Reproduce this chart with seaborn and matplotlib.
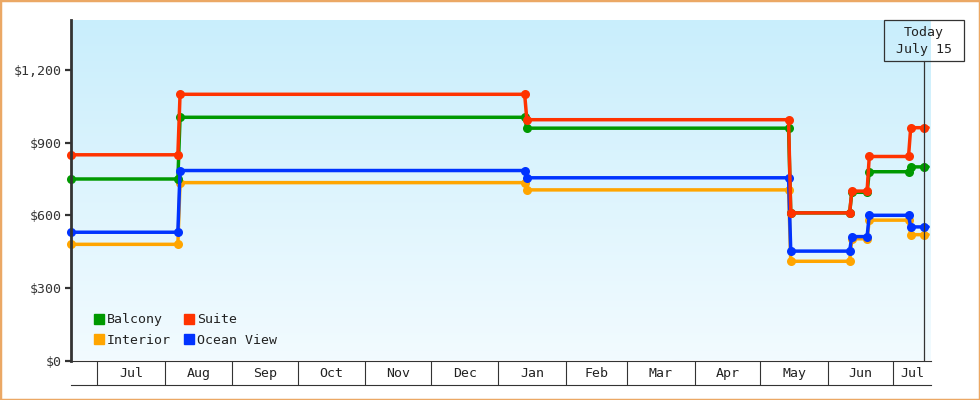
import numpy as np
import pandas as pd
import matplotlib.pyplot as plt
import matplotlib.dates as mdates
from matplotlib.colors import LinearSegmentedColormap
from matplotlib.lines import Line2D
from matplotlib.patches import Rectangle
import seaborn as sns

# price history per cabin type (points where the fare changed)
dates = ['2022-06-19', '2022-08-07', '2022-08-08', '2023-01-13', '2023-01-14',
         '2023-05-14', '2023-05-15', '2023-06-11', '2023-06-12', '2023-06-19',
         '2023-06-20', '2023-07-08', '2023-07-09', '2023-07-15', '2023-07-17']
balcony = [750, 750, 1005, 1005, 960, 960, 610, 610, 695, 695, 780, 780, 800, 800, 800]
interior = [480, 480, 735, 735, 705, 705, 410, 410, 503, 503, 580, 580, 520, 520, 520]
suite = [850, 850, 1100, 1100, 995, 995, 610, 610, 700, 700, 843, 843, 962, 962, 962]
ocean_view = [530, 530, 785, 785, 755, 755, 452, 452, 512, 512, 600, 600, 552, 552, 552]

cabins = ['Balcony', 'Interior', 'Suite', 'Ocean View']
colors = {'Balcony': '#009900', 'Interior': '#ffa500', 'Suite': '#ff3300', 'Ocean View': '#0033ff'}
y_ticks = [0, 300, 600, 900, 1200]
y_labels = ['$0', '$300', '$600', '$900', '$1,200']
months = ['Jul', 'Aug', 'Sep', 'Oct', 'Nov', 'Dec', 'Jan', 'Feb', 'Mar', 'Apr', 'May', 'Jun', 'Jul']
today = '2023-07-15'
today_label = 'Today\nJuly 15'

df = pd.DataFrame({
    'date': pd.to_datetime(dates * 4),
    'price': balcony + interior + suite + ocean_view,
    'cabin': np.repeat(cabins, len(dates)),
})

sns.set_style('white')
plt.rcParams['font.family'] = ['DejaVu Sans Mono']
plt.rcParams['font.size'] = 9.5
plt.rcParams['text.color'] = '#222222'

W, H = 980, 400
L, R, T, B = 71, 930.7, 20, 360.5
fig = plt.figure(figsize=(W / 100, H / 100), dpi=100)

# gradient background of the plot area
bg = fig.add_axes([L / W, 1 - B / H, (R - L) / W, (B - T) / H], zorder=0)
cmap = LinearSegmentedColormap.from_list('sky', ['#c9eefc', '#f2fbff'])
bg.imshow(np.linspace(0, 1, 256).reshape(-1, 1), cmap=cmap, aspect='auto', extent=[0, 1, 0, 1])
bg.axis('off')

ax = fig.add_axes([L / W, 1 - B / H, (R - L) / W, (B - T) / H], zorder=1)
ax.set_facecolor('none')

sns.lineplot(data=df, x='date', y='price', hue='cabin',
             hue_order=['Interior', 'Balcony', 'Ocean View', 'Suite'],
             palette=colors, marker='o', markersize=6.5, markeredgewidth=0,
             markevery=slice(0, -1), linewidth=2.5, errorbar=None,
             legend=False, clip_on=False, ax=ax)

xmin, xmax = pd.Timestamp('2022-06-19'), pd.Timestamp('2023-07-18 04:00')
ax.set_xlim(xmin, xmax)
ax.set_ylim(0, 1407)
ax.set_yticks(y_ticks, y_labels)
ax.set_xticks([])
ax.set_xlabel('')
ax.set_ylabel('')
for s in ['top', 'right']:
    ax.spines[s].set_visible(False)
ax.spines['left'].set_color('#333333')
ax.spines['left'].set_linewidth(2)
ax.spines['bottom'].set_color('#333333')
ax.spines['bottom'].set_linewidth(0.8)
ax.tick_params(axis='y', length=4, width=1.6, color='#333333', pad=2.5,
               labelsize=9.5, labelcolor='#333333', left=True)

# legend
handles = [Line2D([], [], marker='s', ls='', color=colors[c], markersize=7.7) for c in cabins]
ax.legend(handles, cabins, ncol=2, loc='lower left', frameon=False,
          bbox_to_anchor=(0.02, 0.025), borderaxespad=0, handlelength=0.8,
          handletextpad=0.2, columnspacing=1.0, labelspacing=0.55, fontsize=9.5)

# month band under the plot
band = fig.add_axes([L / W, 1 - 385 / H, (R - L) / W, (385 - B) / H])
band.set_xlim(ax.get_xlim())
band.set_ylim(0, 1)
band.set_facecolor('white')
for s in ['top', 'left', 'right']:
    band.spines[s].set_visible(False)
band.spines['bottom'].set_color('#333333')
band.spines['bottom'].set_linewidth(0.8)
band.set_xticks([])
band.set_yticks([])
starts = pd.date_range('2022-07-01', periods=len(months), freq='MS')
edges = list(starts) + [xmax]
for i, m in enumerate(months):
    band.axvline(edges[i], color='#333333', lw=0.8)
    mid = edges[i] + (edges[i + 1] - edges[i]) / 2
    band.text(mid, 0.48, m, ha='center', va='center', fontsize=9.5)

# today marker line and box
box_bottom = 60.7
ax.axvline(pd.Timestamp(today), ymin=0, ymax=(B - box_bottom) / (B - T),
           color='#333333', lw=0.9, zorder=5)
x_px = ax.transData.transform((mdates.date2num(pd.Timestamp(today)), 0))[0]
fig.add_artist(Rectangle(((x_px - 40) / W, 1 - box_bottom / H), 80 / W, 40.4 / H,
                         transform=fig.transFigure, fill=False, ec='#333333', lw=0.9))
fig.text(x_px / W, 1 - 40.8 / H, today_label, ha='center', va='center',
         multialignment='center', linespacing=1.4, fontsize=9.5)

# outer border
fig.add_artist(Rectangle((0, 0), 1, 1, transform=fig.transFigure, fill=False,
                         ec='#eba865', lw=2.5))

fig.savefig('out.png', dpi=100)
